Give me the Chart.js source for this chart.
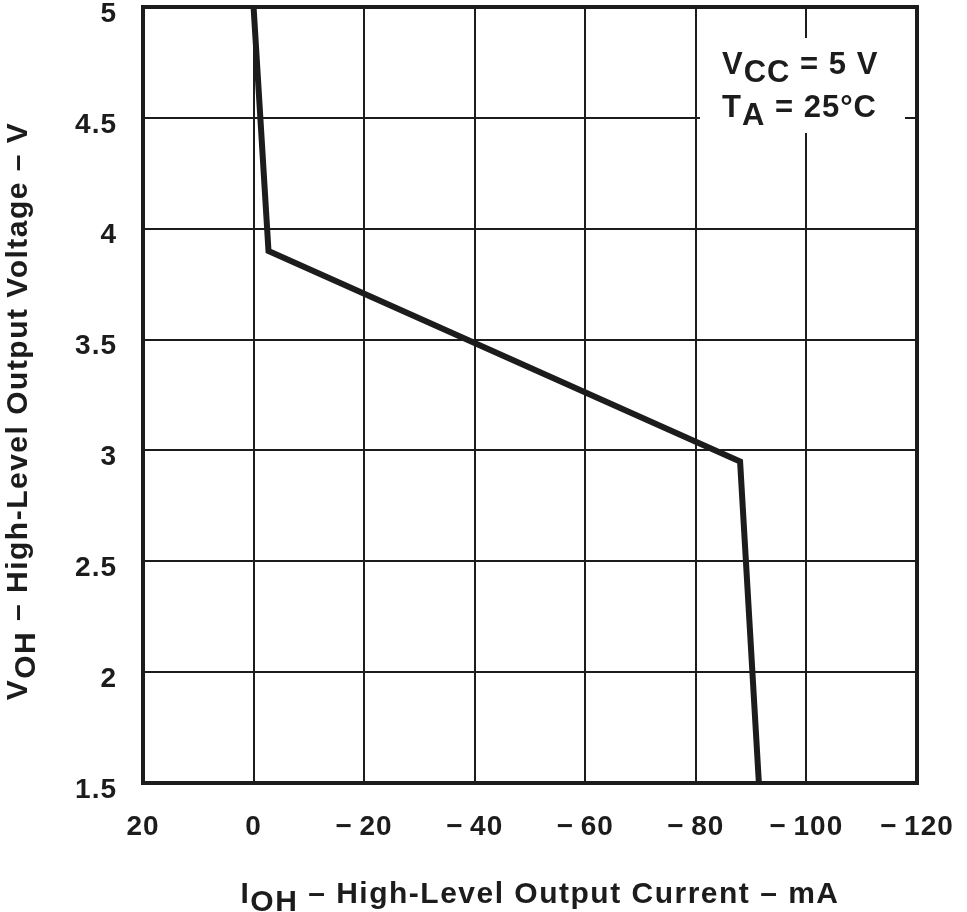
<!DOCTYPE html>
<html>
<head>
<meta charset="utf-8">
<script src="https://cdn.jsdelivr.net/npm/chart.js@4.4.1/dist/chart.umd.min.js"></script>
<style>
  html, body { margin: 0; padding: 0; background: #fff; }
  #wrap { width: 967px; height: 912px; position: relative; }
</style>
</head>
<body>
<div id="wrap"><canvas id="chart" width="967" height="912"></canvas></div>
<script>
// Data
const currentMA = [0, -2.7, -88, -91.4];
const voltageV = [5, 3.9, 2.95, 1.5];
const xTicks = [20, 0, -20, -40, -60, -80, -100, -120];
const yTicks = [1.5, 2, 2.5, 3, 3.5, 4, 4.5, 5];

const FONT = "'Liberation Sans', Arial, Helvetica, sans-serif";
const INK = "#1c1c1c";

// draw text with subscripts, parts = [[text, isSub], ...]
function subText(ctx, parts, x, y, align) {
  let w = 0;
  parts.forEach(p => (w += ctx.measureText(p[0]).width));
  let cx = align === "center" ? x - w / 2 : x;
  parts.forEach(p => {
    ctx.fillText(p[0], cx, p[1] ? y + 8 : y);
    cx += ctx.measureText(p[0]).width;
  });
}

const extras = {
  id: "extras",
  beforeDraw(chart) {
    // wider spacing, closer to the original lettering
    chart.ctx.letterSpacing = "1px";
  },
  afterDraw(chart) {
    const { ctx, chartArea: a } = chart;
    ctx.save();
    // annotation box
    ctx.fillStyle = "#fff";
    ctx.fillRect(700, 38, 205, 95);
    ctx.fillStyle = INK;
    ctx.textAlign = "left";
    ctx.textBaseline = "alphabetic";
    ctx.letterSpacing = "1px";
    ctx.font = "bold 31px " + FONT;
    subText(ctx, [["V"], ["CC", 1], [" = 5 V"]], 722, 74, "left");
    subText(ctx, [["T"], ["A", 1], [" = 25°C"]], 722, 117, "left");
    // frame
    ctx.strokeStyle = INK;
    ctx.lineWidth = 4;
    ctx.strokeRect(a.left, a.top, a.right - a.left, a.bottom - a.top);
    // axis titles
    ctx.letterSpacing = "1.5px";
    ctx.font = "bold 30px " + FONT;
    subText(ctx, [["I"], ["OH", 1], [" – High-Level Output Current – mA"]], 540, 903, "center");
    ctx.translate(27, 411);
    ctx.rotate(-Math.PI / 2);
    subText(ctx, [["V"], ["OH", 1], [" – High-Level Output Voltage – V"]], 0, 0, "center");
    ctx.restore();
  },
};

new Chart(document.getElementById("chart"), {
  type: "scatter",
  data: {
    datasets: [
      {
        data: currentMA.map((x, i) => ({ x, y: voltageV[i] })),
        showLine: true,
        borderColor: INK,
        borderWidth: 6,
        pointRadius: 0,
        borderJoinStyle: "miter",
      },
    ],
  },
  options: {
    responsive: false,
    animation: false,
    layout: { padding: { top: 7, right: 50, left: 0, bottom: 0 } },
    plugins: { legend: { display: false }, tooltip: { enabled: false } },
    scales: {
      x: {
        type: "linear",
        reverse: true,
        min: -120,
        max: 20,
        afterBuildTicks: s => (s.ticks = xTicks.map(v => ({ value: v }))),
        afterFit: s => {
          s.height = 129;
          s.paddingLeft = 0;
          s.paddingRight = 0;
        },
        grid: { color: INK, lineWidth: 2, drawTicks: false },
        border: { display: false },
        ticks: {
          padding: 27,
          color: INK,
          font: { family: FONT, size: 28, weight: "bold" },
          callback: v => (v < 0 ? "\u2212\u2009" + -v : "" + v),
        },
      },
      y: {
        type: "linear",
        min: 1.5,
        max: 5,
        afterBuildTicks: s => (s.ticks = yTicks.map(v => ({ value: v }))),
        afterFit: s => {
          s.width = 143;
          s.paddingTop = 0;
          s.paddingBottom = 0;
        },
        grid: { color: INK, lineWidth: 2, drawTicks: false },
        border: { display: false },
        ticks: {
          padding: 26,
          labelOffset: 7,
          color: INK,
          font: { family: FONT, size: 28, weight: "bold" },
          callback: v => "" + v,
        },
      },
    },
  },
  plugins: [extras],
});
</script>
</body>
</html>
